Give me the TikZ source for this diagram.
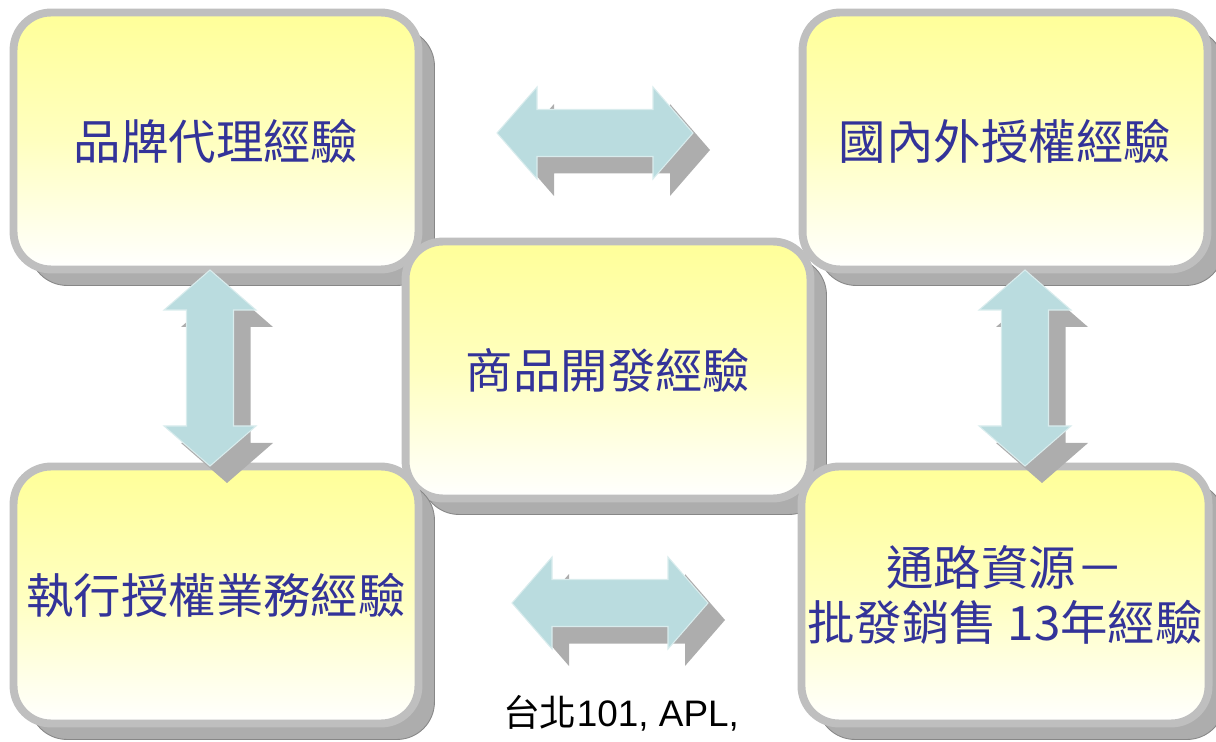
\documentclass[tikz,border=0pt]{standalone}
\usepackage{fontspec}
\setmainfont{Liberation Sans}
\newfontfamily\cjk{Noto Sans CJK TC}
\usetikzlibrary{shadows,positioning}
\definecolor{boxyellow}{RGB}{255,255,153}
\definecolor{boxrim}{RGB}{191,191,191}
\definecolor{shadegray}{RGB}{173,173,173}
\definecolor{shadeline}{RGB}{135,135,135}
\definecolor{arrowblue}{RGB}{186,220,223}
\definecolor{textblue}{RGB}{51,51,153}

\begin{document}
\begin{tikzpicture}[x=0.02cm,y=-0.02cm,
    card/.style={draw=boxrim, line width=4.5pt, rounded corners=0.75cm,
      top color=boxyellow, bottom color=white, middle color=boxyellow!62!white,
      minimum width=8.1cm, minimum height=5.14cm, text=textblue, align=center,
      font=\cjk\fontsize{27}{31}\selectfont,
      general shadow={fill=shadegray, draw=shadeline, line width=0.5pt,
        shadow xshift=0.32cm, shadow yshift=-0.32cm}},
    blockarrow/.style={fill=arrowblue, draw=arrowblue!55!white, line width=0.6pt},
    arrowshade/.style={fill=shadegray}]
  \useasboundingbox (0,0) rectangle (1216,742);
  % experience boxes
  \node[card] (brand) at (216,141) {品牌代理經驗};
  \node[card] (product) at (608,370) {商品開發經驗};
  \node[card] (license) at (1005,141) {國內外授權經驗};
  \node[card] (agency) at (216,595) {執行授權業務經驗};
  \node[card] (channel) at (1005,595) {通路資源－\\批發銷售 13年經驗};
  % two-way block arrows
  \foreach \cx/\cy/\r in {595/133/0, 610/603/0, 210/368/90, 1025/368/90} {
    \begin{scope}[shift={(\cx+17,\cy+17)}, rotate=\r]
      \fill[arrowshade] (-98,0) -- (-58,-46) -- (-58,-23.5) -- (58,-23.5) -- (58,-46)
        -- (98,0) -- (58,46) -- (58,23.5) -- (-58,23.5) -- (-58,46) -- cycle;
    \end{scope}
    \begin{scope}[shift={(\cx,\cy)}, rotate=\r]
      \filldraw[blockarrow] (-98,0) -- (-58,-46) -- (-58,-23.5) -- (58,-23.5) -- (58,-46)
        -- (98,0) -- (58,46) -- (58,23.5) -- (-58,23.5) -- (-58,46) -- cycle;
    \end{scope}
  }
  \node[font=\fontsize{21}{25}\selectfont] (venue) at (621,713) {{\cjk 台北}101, APL,};
\end{tikzpicture}
\end{document}
